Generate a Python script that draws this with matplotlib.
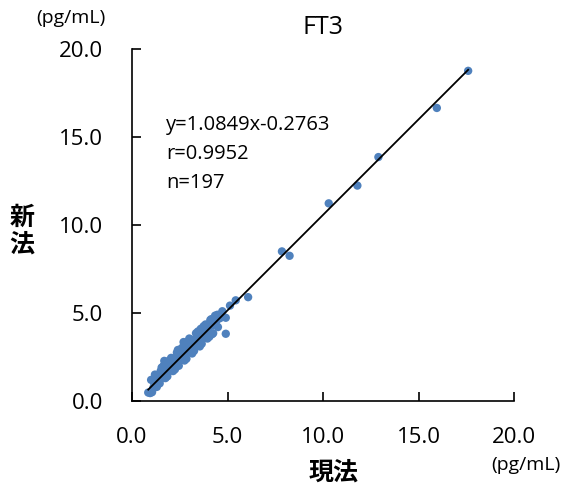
import matplotlib
matplotlib.use("Agg")
import matplotlib.pyplot as plt
import numpy as np

title = "FT3"
x_label = "現法"
y_label = "新法"
unit = "(pg/mL)"
ticks = [0.0, 5.0, 10.0, 15.0, 20.0]
tick_labels = ["0.0", "5.0", "10.0", "15.0", "20.0"]
slope = 1.0849
intercept = -0.2763
stats_text = ["y=1.0849x-0.2763", "r=0.9952", "n=197"]

x_old = [0.85, 0.95, 1.05, 1.1, 1.15, 1.2, 1.25, 1.3, 1.35, 1.4, 1.4, 1.45, 1.5, 1.5, 1.55,
         1.6, 1.6, 1.65, 1.69, 1.7, 1.75, 1.8, 1.8, 1.85, 1.9, 1.9, 1.95, 2.0, 2.0, 2.0,
         2.05, 2.1, 2.1, 2.15, 2.2, 2.2, 2.25, 2.25, 2.3, 2.3, 2.35, 2.4, 2.4, 2.45, 2.5,
         2.5, 2.55, 2.55, 2.6, 2.6, 2.65, 2.7, 2.7, 2.7, 2.75, 2.8, 2.8, 2.85, 2.9, 2.9,
         2.95, 3.0, 3.0, 3.05, 3.1, 3.1, 3.15, 3.2, 3.2, 3.25, 3.3, 3.3, 3.35, 3.4, 3.4,
         3.45, 3.5, 3.5, 3.55, 3.6, 3.6, 3.7, 3.7, 3.8, 3.8, 3.9, 3.9, 4.0, 4.0, 4.1,
         4.2, 4.3, 4.4, 4.47, 4.6, 4.73, 4.91, 4.91, 5.13, 5.43, 6.08, 7.85, 8.25, 10.3,
         11.8, 12.9, 15.96, 17.6,
         1.0, 1.3, 1.55, 1.75, 1.95, 2.15, 2.35, 2.45, 2.65, 2.85, 3.05, 3.25, 3.45, 3.65,
         3.85, 4.05, 4.15, 4.25, 4.35, 1.2, 1.45, 1.65, 1.85, 2.05, 2.25, 2.55, 2.75, 2.95,
         3.15, 3.35, 3.55, 3.75, 3.95, 4.1, 4.5, 1.75, 2.4, 3.0, 3.6, 4.2]
y_new = [0.48, 0.45, 0.5, 0.7, 0.85, 1.0, 0.9, 1.2, 1.1, 1.3, 1.5, 1.2, 1.4, 1.7, 1.3,
         1.5, 1.9, 1.6, 2.28, 1.45, 1.7, 1.6, 2.0, 1.75, 1.9, 1.65, 2.1, 1.8, 2.0, 2.25,
         1.9, 2.1, 1.85, 2.3, 2.0, 2.2, 2.1, 2.45, 2.3, 2.05, 2.2, 2.4, 2.6, 2.3, 2.5,
         2.3, 2.7, 2.45, 2.6, 2.4, 2.8, 3.35, 2.6, 2.9, 2.7, 2.8, 3.0, 2.75, 2.9, 3.1,
         3.0, 3.2, 2.9, 3.05, 3.3, 3.0, 3.2, 3.4, 3.1, 3.3, 3.5, 3.2, 3.4, 3.6, 3.3,
         3.5, 3.7, 3.4, 3.65, 3.8, 3.5, 3.9, 3.6, 3.95, 3.75, 4.1, 3.8, 4.2, 3.9, 4.3,
         4.3, 4.6, 4.5, 4.9, 4.7, 5.1, 4.73, 3.82, 5.42, 5.72, 5.9, 8.5, 8.25, 11.23,
         12.24, 13.86, 16.65, 18.76,
         1.2, 0.8, 1.9, 1.3, 2.3, 1.7, 2.75, 2.0, 3.05, 2.4, 3.5, 2.85, 3.95, 3.25,
         4.35, 3.65, 4.65, 3.85, 4.85, 1.5, 1.0, 2.0, 1.4, 2.45, 1.8, 2.95, 2.3, 3.4,
         2.7, 3.85, 3.1, 4.25, 3.55, 4.6, 4.2, 2.1, 2.9, 3.55, 4.1, 3.8]

plt.rcParams['font.family'] = ['Open Sans', 'Noto Sans CJK JP', 'DejaVu Sans']
cjk = ['Noto Sans CJK JP', 'DejaVu Sans']

fig = plt.figure(figsize=(5.64, 4.97), dpi=100)
ax = fig.add_axes([132/564, 1-401/497, (514-132)/564, (401-49)/497])

ax.scatter(x_old, y_new, s=36, color='#4F81BD', edgecolors='none', zorder=2)
lx = np.array([min(x_old), max(x_old)])
ax.plot(lx, slope*lx + intercept, color='black', lw=1.3, zorder=3)

ax.set_xlim(0, 20)
ax.set_ylim(0, 20)
ax.set_xticks(ticks)
ax.set_yticks(ticks)
ax.set_xticklabels(tick_labels, fontsize=16)
ax.set_yticklabels(tick_labels, fontsize=16)
ax.tick_params(direction='in', length=6.5, width=1.2)
ax.tick_params(axis='x', pad=19)
ax.tick_params(axis='y', pad=21)
for s in ['top', 'right']:
    ax.spines[s].set_visible(False)
for s in ['left', 'bottom']:
    ax.spines[s].set_linewidth(1.2)

fig.text(323/564, 1-28/497, title, ha='center', va='center', fontsize=18)
fig.text(71/564, 1-18/497, unit, ha='center', va='center', fontsize=14)
fig.text(526/564, 1-465/497, unit, ha='center', va='center', fontsize=14)
fig.text(334/564, 1-473/497, x_label, ha='center', va='center', fontsize=18,
         family=cjk, fontweight='bold')
fig.text(22/564, 1-218/497, y_label[0], ha='center', va='center', fontsize=18,
         family=cjk, fontweight='bold')
fig.text(22/564, 1-245/497, y_label[1], ha='center', va='center', fontsize=18,
         family=cjk, fontweight='bold')
for i, t in enumerate(stats_text):
    fig.text(166/564, 1-(125+29*i)/497, t, ha='left', va='center', fontsize=14.5)

fig.savefig('out.png', dpi=100)
